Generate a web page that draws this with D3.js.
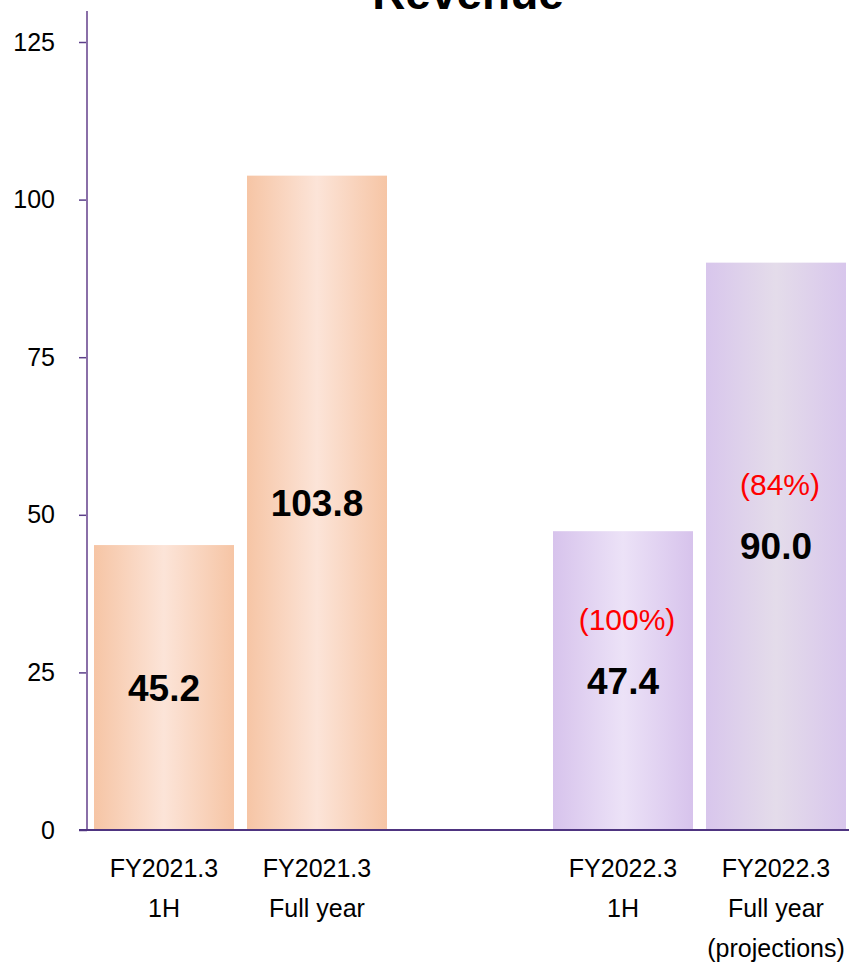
<!DOCTYPE html>
<html><head><meta charset="utf-8">
<script src="https://cdn.jsdelivr.net/npm/d3@7/dist/d3.min.js"></script>
<style>body{margin:0;background:#fff}svg{display:block}text{font-family:"Liberation Sans",Arial,sans-serif}</style>
</head><body><svg id="c" width="849" height="962"></svg>
<script>
const categories = ["FY2021.3\n1H", "FY2021.3\nFull year", "gap", "FY2022.3\n1H", "FY2022.3\nFull year\n(projections)"];
const values = [45.2, 103.8, null, 47.4, 90.0];
const valueLabels = ["45.2", "103.8", "", "47.4", "90.0"];
const pctLabels = ["", "", "", "(100%)", "(84%)"];
const barStyles = ["orange", "orange", "", "purple1", "purple2"];
const yTicks = [0, 25, 50, 75, 100, 125];
const title = "Revenue";

const svg = d3.select("#c");
const defs = svg.append("defs");
const grads = {
  orange: ["#f6c5a5", "#fce4d8"],
  purple1: ["#d7c3ec", "#ece2f7"],
  purple2: ["#d8c6ec", "#e4dcea"]
};
Object.entries(grads).forEach(([k, [edge, mid]]) => {
  const g = defs.append("linearGradient").attr("id", "g-" + k).attr("x1", "0").attr("x2", "1").attr("y1", "0").attr("y2", "0");
  g.append("stop").attr("offset", "0%").attr("stop-color", edge);
  g.append("stop").attr("offset", "50%").attr("stop-color", mid);
  g.append("stop").attr("offset", "100%").attr("stop-color", edge);
});

const x = d3.scaleBand().domain(categories).range([87.5, 852.5]).paddingInner(0.085).paddingOuter(0.0425);
const y = d3.scaleLinear().domain([0, 125]).range([830, 42]);

// bars
const data = categories.map((c, i) => ({c, v: values[i], lab: valueLabels[i], pct: pctLabels[i], s: barStyles[i]})).filter(d => d.v != null);
svg.selectAll("rect.bar").data(data).join("rect").attr("class", "bar")
  .attr("x", d => x(d.c)).attr("width", x.bandwidth())
  .attr("y", d => y(d.v)).attr("height", d => y(0) - y(d.v))
  .attr("fill", d => `url(#g-${d.s})`);

// value labels
svg.selectAll("text.val").data(data).join("text").attr("class", "val")
  .attr("x", d => x(d.c) + x.bandwidth() / 2)
  .attr("y", d => (y(d.v) + y(0)) / 2 + 13)
  .attr("text-anchor", "middle").attr("font-weight", "bold").attr("font-size", 37).attr("fill", "#000")
  .text(d => d.lab);
svg.selectAll("text.pct").data(data.filter(d => d.pct)).join("text").attr("class", "pct")
  .attr("x", d => x(d.c) + x.bandwidth() / 2 + 4)
  .attr("y", d => (y(d.v) + y(0)) / 2 + 13 - 64)
  .attr("text-anchor", "middle").attr("font-size", 30).attr("fill", "#ff0000")
  .text(d => d.pct);

// y axis
const yAxis = svg.append("g").attr("transform", "translate(87,0)")
  .call(d3.axisLeft(y).tickValues(yTicks).tickSize(8).tickSizeOuter(0).tickPadding(24));
yAxis.select(".domain").remove();
yAxis.selectAll(".tick line").attr("stroke", "#5c3f8a").attr("stroke-width", 1.5);
yAxis.selectAll(".tick text").attr("font-size", 25).attr("fill", "#000").attr("font-family", "Liberation Sans, Arial, sans-serif");
svg.append("line").attr("x1", 87).attr("x2", 87).attr("y1", 11).attr("y2", y(0))
  .attr("stroke", "#8a6fa8").attr("stroke-width", 2);
svg.append("line").attr("x1", 79).attr("x2", 849).attr("y1", y(0)).attr("y2", y(0))
  .attr("stroke", "#4e3480").attr("stroke-width", 2);

// x labels
const xl = svg.selectAll("text.xl").data(categories.filter(c => c !== "gap")).join("text").attr("class", "xl")
  .attr("text-anchor", "middle").attr("font-size", 25).attr("fill", "#000");
xl.each(function(c) {
  const t = d3.select(this);
  c.split("\n").forEach((line, i) => {
    t.append("tspan").attr("x", x(c) + x.bandwidth() / 2).attr("y", 877 + i * 40).text(line);
  });
});

// title
svg.append("text").attr("x", 468).attr("y", 9).attr("text-anchor", "middle")
  .attr("font-weight", "bold").attr("font-size", 46).attr("fill", "#000").text(title);
</script></body></html>
